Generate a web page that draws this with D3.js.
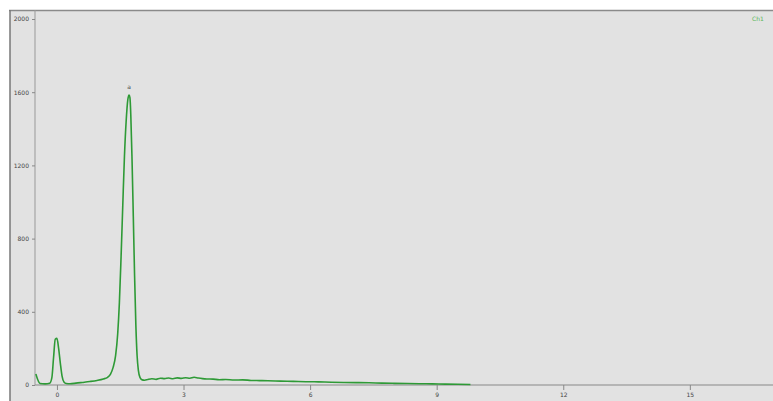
<!DOCTYPE html>
<html><head><meta charset="utf-8">
<script src="https://cdn.jsdelivr.net/npm/d3@7"></script>
<style>body{margin:0;background:#fff}svg{display:block}</style>
</head><body>
<script>
const xTicks = [0, 3, 6, 9, 12, 15];
const yTicks = [0, 400, 800, 1200, 1600, 2000];
const xValues = [-0.5,-0.4,-0.28,-0.17,-0.12,-0.08,-0.04,0,0.04,0.08,0.12,0.17,0.22,0.31,0.45,0.6,0.78,0.95,1.1,1.2,1.27,1.33,1.39,1.44,1.48,1.52,1.56,1.6,1.64,1.68,1.71,1.73,1.75,1.78,1.81,1.84,1.87,1.9,1.93,1.97,2.02,2.08,2.15,2.25,2.35,2.45,2.55,2.65,2.75,2.85,2.95,3.05,3.15,3.25,3.35,3.45,3.55,3.7,3.85,4.0,4.2,4.4,4.6,4.8,5.0,5.3,5.6,5.9,6.2,6.5,6.8,7.1,7.4,7.7,8.0,8.3,8.6,8.9,9.2,9.5,9.8];
const yValues = [60,8,6,10,40,150,250,255,200,120,50,15,8,7,10,14,19,25,33,42,60,95,160,280,450,700,980,1250,1440,1560,1585,1570,1480,1230,920,600,330,160,80,40,28,26,30,34,31,37,35,38,34,39,36,40,37,42,38,35,33,32,29,30,27,28,25,24,23,21,20,18,17,15,14,13,12,10,9,8,7,6,5,4,3];
const peakLabel = "a";
const legendLabel = "Ch1";

const W = 773, H = 401;
const svg = d3.select("body").append("svg").attr("width", W).attr("height", H);
svg.append("rect").attr("x", 10).attr("y", 10).attr("width", W - 10).attr("height", H - 10).attr("fill", "#e2e2e2");
svg.append("line").attr("x1", 9).attr("x2", W).attr("y1", 10.5).attr("y2", 10.5).attr("stroke", "#8a8a8a").attr("stroke-width", 1.5);
svg.append("line").attr("x1", 10).attr("x2", 10).attr("y1", 10).attr("y2", H).attr("stroke", "#777").attr("stroke-width", 1.5);

const x = d3.scaleLinear().domain([-0.52, 16.9]).range([35, 770]);
const y = d3.scaleLinear().domain([0, 2000]).range([385, 19]);

const xAxis = svg.append("g").attr("transform", "translate(0,385)")
  .call(d3.axisBottom(x).tickValues(xTicks).tickSize(5).tickPadding(3).tickFormat(d3.format("d")));
xAxis.select(".domain").attr("stroke", "#888").attr("d", `M35,0H${W}`);
const yAxis = svg.append("g").attr("transform", "translate(35,0)")
  .call(d3.axisLeft(y).tickValues(yTicks).tickSize(3).tickPadding(3).tickFormat(d3.format("d")));
yAxis.select(".domain").attr("stroke", "#999").attr("d", "M0,10V385");
svg.selectAll(".tick line").attr("stroke", "#888");
svg.selectAll(".tick text").attr("fill", "#444").style("font-family", "DejaVu Sans").style("font-size", "6px");

const data = xValues.map((v, i) => [v, yValues[i]]);
svg.append("path").datum(data)
  .attr("fill", "none").attr("stroke", "#2e9a36").attr("stroke-width", 1.6)
  .attr("d", d3.line().x(d => x(d[0])).y(d => y(d[1])).curve(d3.curveMonotoneX));

const peak = data.reduce((a, b) => b[1] > a[1] ? b : a);
svg.append("text").attr("x", x(peak[0])).attr("y", y(peak[1]) - 6).attr("text-anchor", "middle")
  .attr("fill", "#444").style("font-family", "DejaVu Sans").style("font-size", "6px").text(peakLabel);
svg.append("text").attr("x", 758).attr("y", 21).attr("text-anchor", "middle")
  .attr("fill", "#5cb85c").style("font-family", "DejaVu Sans").style("font-size", "6px").text(legendLabel);
</script>
</body></html>
